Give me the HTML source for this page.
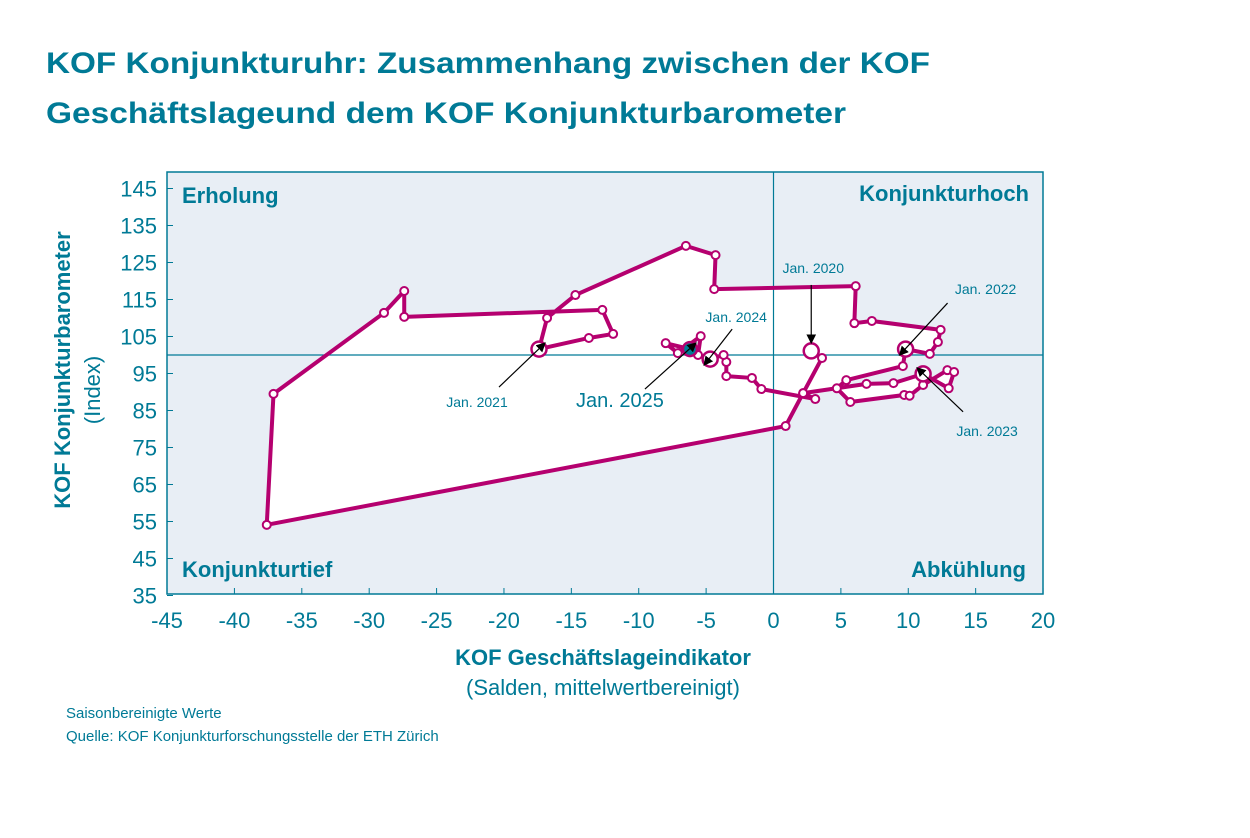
<!DOCTYPE html>
<html><head><meta charset="utf-8"><style>
body{margin:0;background:#fff;}
svg text{font-family:"Liberation Sans",sans-serif;}
</style></head><body>
<svg width="1250" height="833" viewBox="0 0 1250 833">
<text x="46" y="73" font-size="30" font-weight="bold" fill="#007a96" textLength="884" lengthAdjust="spacingAndGlyphs">KOF Konjunkturuhr: Zusammenhang zwischen der KOF</text>
<text x="46" y="123" font-size="30" font-weight="bold" fill="#007a96" textLength="800" lengthAdjust="spacingAndGlyphs">Geschäftslageund dem KOF Konjunkturbarometer</text>
<rect x="167" y="172" width="876" height="422" fill="#e8eef5" stroke="#007a96" stroke-width="1.5"/>
<g id="fillg"></g>
<line id="vline" x1="773.5" y1="172" x2="773.5" y2="594" stroke="#007a96" stroke-width="1.2"/>
<line id="hline" x1="167" y1="355" x2="1043" y2="355" stroke="#007a96" stroke-width="1.2"/>
<g id="axes"></g>
<text x="182" y="203" font-size="22" font-weight="bold" fill="#007a96">Erholung</text>
<text x="1029" y="201" font-size="22" font-weight="bold" fill="#007a96" text-anchor="end">Konjunkturhoch</text>
<text x="182" y="577" font-size="22" font-weight="bold" fill="#007a96">Konjunkturtief</text>
<text x="1026" y="577" font-size="22" font-weight="bold" fill="#007a96" text-anchor="end">Abkühlung</text>
<g id="series"></g>
<g id="annots"></g>
<text x="603" y="665" font-size="22" font-weight="bold" fill="#007a96" text-anchor="middle">KOF Geschäftslageindikator</text>
<text x="603" y="695" font-size="22" fill="#007a96" text-anchor="middle">(Salden, mittelwertbereinigt)</text>
<text transform="translate(70,370) rotate(-90)" font-size="22" font-weight="bold" fill="#007a96" text-anchor="middle">KOF Konjunkturbarometer</text>
<text transform="translate(100,390) rotate(-90)" font-size="22" fill="#007a96" text-anchor="middle">(Index)</text>
<text x="66" y="718" font-size="15" fill="#007a96">Saisonbereinigte Werte</text>
<text x="66" y="741" font-size="15" fill="#007a96">Quelle: KOF Konjunkturforschungsstelle der ETH Zürich</text>
</svg>
<script>
const xTicks=[-45,-40,-35,-30,-25,-20,-15,-10,-5,0,5,10,15,20];
const yTicks=[35,45,55,65,75,85,95,105,115,125,135,145];
const xVals=[2.8,3.6,2.2,0.9,-37.6,-37.1,-28.9,-27.4,-27.4,-12.7,-11.9,-13.7,-17.4,-16.8,-14.7,-6.5,-4.3,-4.4,6.1,6,7.3,12.4,12.2,11.6,9.8,9.6,5.4,4.7,5.7,9.7,10.1,11.1,12.9,13.4,13,11.1,8.9,6.9,2.2,3.1,-0.9,-1.6,-3.5,-3.5,-3.7,-4.7,-5.6,-5.4,-7.1,-8,-6.2];
const yVals=[101.1,99.2,89.7,80.8,54.1,89.5,111.4,117.3,110.3,112.2,105.7,104.6,101.6,110,116.2,129.5,127,117.8,118.6,108.6,109.2,106.8,103.5,100.3,101.6,97,93.2,91,87.3,89.2,89,91.9,95.9,95.4,91,94.9,92.4,92.2,89.7,88.1,90.8,93.8,94.3,98.1,100,98.9,100,105.1,100.5,103.2,101.6];
const bigIdx=[0,12,24,35,45];
const lastIdx=50;
const annotLabels=["Jan. 2020","Jan. 2021","Jan. 2022","Jan. 2023","Jan. 2024","Jan. 2025"];
const annotIdx=[0,12,24,35,45,50];
const NS="http://www.w3.org/2000/svg";
const X=v=>773.5+v*13.477, Y=v=>355-(v-100)*3.7;
function mk(t,a,p){const e=document.createElementNS(NS,t);for(const k in a)e.setAttribute(k,a[k]);p.appendChild(e);return e;}
const ax=document.getElementById('axes');
xTicks.forEach(v=>{mk('line',{x1:X(v),y1:594,x2:X(v),y2:588,stroke:'#007a96'},ax);
const t=mk('text',{x:X(v),y:628,'font-size':22,fill:'#007a96','text-anchor':'middle'},ax);t.textContent=v;

});
yTicks.forEach(v=>{mk('line',{x1:167,y1:Y(v),x2:173,y2:Y(v),stroke:'#007a96'},ax);
const t=mk('text',{x:157,y:Y(v)+8,'font-size':22,fill:'#007a96','text-anchor':'end'},ax);t.textContent=v;

});
const pts=xVals.map((v,i)=>X(v)+','+Y(yVals[i])).join(' ');
const fp=mk('polygon',{points:pts,fill:'#fff',stroke:'none'},document.getElementById('fillg'));


const s=document.getElementById('series');
const pl=mk('polyline',{points:pts,fill:'none',stroke:'#b5006f','stroke-width':4,'stroke-linejoin':'round'},s);


xVals.forEach((v,i)=>{const big=bigIdx.includes(i);const last=i===lastIdx;
const c=mk('circle',{cx:X(v),cy:Y(yVals[i]),r:last?7:(big?7.5:4),fill:last?'#007a96':'#fff',stroke:'#b5006f','stroke-width':big||last?2.5:2},s);

});
const an=document.getElementById('annots');
const defs=mk('defs',{},an);const m=mk('marker',{id:'ar',markerWidth:8,markerHeight:8,refX:7,refY:4,orient:'auto'},defs);mk('path',{d:'M0,0L8,4L0,8z',fill:'#000'},m);
const off=[[0,-66,2,-78],[-40,38,-62,58],[42,-46,80,-55],[40,38,64,62],[22,-30,26,-37],[-45,40,-70,58]];
const fs=[14,14,14,14,14,20];
annotIdx.forEach((idx,k)=>{const px=X(xVals[idx]),py=Y(yVals[idx]);const o=off[k];
const dx=Math.sign(o[0]),dy=Math.sign(o[1]);
mk('line',{x1:px+o[0],y1:py+o[1],x2:px-dx*6,y2:py-(o[0]===0?8:dy*6),stroke:'#000','stroke-width':1.2,'marker-end':'url(#ar)'},an);
const t=mk('text',{x:px+o[2],y:py+o[3],'font-size':fs[k],fill:'#007a96','text-anchor':'middle'},an);
t.textContent=annotLabels[k];

});
</script>
</body></html>
